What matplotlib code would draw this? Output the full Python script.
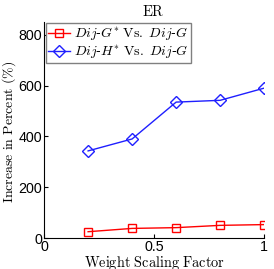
import matplotlib
matplotlib.use('Agg')
from matplotlib import pyplot as plt

plt.rcParams['mathtext.fontset'] = 'cm'
plt.rcParams['font.family'] = ['Liberation Sans', 'DejaVu Sans']

x = [0.2, 0.4, 0.6, 0.8, 1.0]
g_star = [25, 38, 41, 50, 53]
h_star = [343, 390, 535, 542, 590]
names = [r'$Dij$-$G^{*}$ $\mathrm{Vs.}$ $Dij$-$G$',
         r'$Dij$-$H^{*}$ $\mathrm{Vs.}$ $Dij$-$G$']

fig = plt.figure(figsize=(2.74, 2.69), dpi=100)
ax = fig.add_axes([0.161, 0.115, 0.803, 0.803])

ax.plot(x, g_star, color='#ff0000', marker='s', markersize=6,
        markerfacecolor='none', linewidth=1, label=names[0])
ax.plot(x, h_star, color='#1f1fff', marker='D', markersize=6,
        markerfacecolor='none', linewidth=1, label=names[1])

ax.set_xlim(0, 1)
ax.set_ylim(0, 850)
ax.set_xticks([0, 0.5, 1])
ax.set_xticklabels(['0', '0.5', '1'])
ax.set_yticks([0, 200, 400, 600, 800])
ax.tick_params(direction='in', labelsize=10.3, length=3, pad=1.5)
for s in ['top', 'right']:
    ax.spines[s].set_visible(False)

fig.text(0.56, 0.958, r'$\mathrm{ER}$', fontsize=10.5, ha='center', va='center')
ax.set_xlabel(r'$\mathrm{Weight\ Scaling\ Factor}$', fontsize=10.3, labelpad=0)
ax.set_ylabel(r'$\mathrm{Increase\ in\ Percent\ (\%)}$', fontsize=10)
ax.yaxis.set_label_coords(-0.117, 0.49)

leg = ax.legend(loc='upper left', fontsize=10, fancybox=False, framealpha=1,
                borderaxespad=0.1, handlelength=1.6, handletextpad=0.3,
                borderpad=0.15, labelspacing=0.05)
leg.get_frame().set_edgecolor('gray')

fig.savefig('out.png', dpi=100)
